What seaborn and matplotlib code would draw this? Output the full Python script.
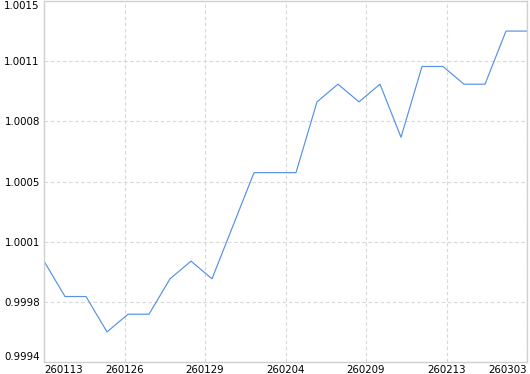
import numpy as np
import pandas as pd
import matplotlib
matplotlib.use("Agg")
import matplotlib.pyplot as plt
import seaborn as sns

# data
values = [1.0000, 0.9998, 0.9998, 0.9996, 0.9997, 0.9997, 0.9999, 1.0000,
          0.9999, 1.0002, 1.0005, 1.0005, 1.0005, 1.0009, 1.0010, 1.0009,
          1.0010, 1.0007, 1.0011, 1.0011, 1.0010, 1.0010, 1.0013, 1.0013]
x_tick_labels = ["260113", "260126", "260129", "260204", "260209", "260213", "260303"]
y_tick_labels = ["0.9994", "0.9998", "1.0001", "1.0005", "1.0008", "1.0011", "1.0015"]

df = pd.DataFrame({"idx": np.arange(len(values)), "value": values})

sns.set_style("white")
plt.rcParams["font.family"] = ["DejaVu Sans"]

fig = plt.figure(figsize=(5.30, 3.74), dpi=100)
ax = fig.add_axes([44 / 530, 12 / 374, 483 / 530, 361 / 374])

sns.lineplot(data=df, x="idx", y="value", ax=ax, color="#5591e6", linewidth=0.85)

n = len(values)
ax.set_xlim(0, n - 1)
vmin, vmax = min(values), max(values)
r = vmax - vmin
ymin, ymax = vmin - 0.1 * r, vmax + 0.1 * r
ax.set_ylim(ymin, ymax)

xt = np.linspace(0, n - 1, len(x_tick_labels))
yt = np.linspace(ymin, ymax, len(y_tick_labels))
ax.set_xticks(xt)
ax.set_xticklabels(x_tick_labels)
ax.set_yticks(yt)
ax.set_yticklabels(y_tick_labels)

for i, lab in enumerate(ax.get_xticklabels()):
    if i == 0:
        lab.set_ha("left")
    elif i == len(x_tick_labels) - 1:
        lab.set_ha("right")
for i, lab in enumerate(ax.get_yticklabels()):
    if i == 0:
        lab.set_va("bottom")
    elif i == len(y_tick_labels) - 1:
        lab.set_va("top")

ax.tick_params(axis="both", length=0, labelsize=7.4, colors="#000000")
ax.tick_params(axis="x", pad=2)
ax.tick_params(axis="y", pad=3)
ax.set_xlabel("")
ax.set_ylabel("")

ax.grid(True, color="#d8d8d8", linestyle=(0, (3.3, 2.2)), linewidth=0.8)
ax.set_axisbelow(True)
for s in ax.spines.values():
    s.set_color("#d0d0d0")
    s.set_linewidth(1.0)

fig.savefig("out.png", dpi=100)
